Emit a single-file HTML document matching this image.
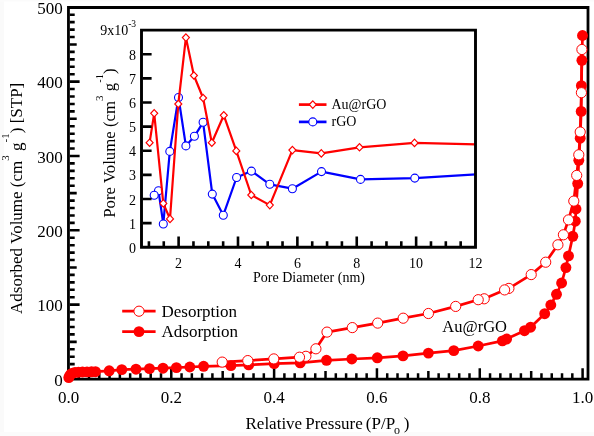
<!DOCTYPE html>
<html><head><meta charset="utf-8"><style>
html,body{margin:0;padding:0;background:#fff;overflow:hidden;}
svg{display:block;will-change:transform;}
text{font-family:"Liberation Serif",serif;fill:#000;}
.l16{font-size:17px;}
.l14{font-size:14px;}
.l10{font-size:10px;}
</style></head><body>
<svg width="594" height="436" viewBox="0 0 594 436">
<rect width="594" height="436" fill="#fff"/>
<rect x="0" y="0" width="4" height="436" fill="#fafafa"/><rect x="0" y="432" width="594" height="4" fill="#fbfbfb"/><rect x="0" y="0" width="594" height="1.5" fill="#fbfbfb"/>
<path d="M68.45 7.5H588V379.2H68.45Z" fill="none" stroke="#000" stroke-width="2.8" stroke-linejoin="miter"/>
<path d="M69.8 371.57h4.9 M69.8 364.13h4.9 M69.8 356.70h4.9 M69.8 349.26h4.9 M69.8 341.83h6.9 M69.8 334.40h4.9 M69.8 326.96h4.9 M69.8 319.53h4.9 M69.8 312.09h4.9 M69.8 304.66h9.8 M69.8 297.23h4.9 M69.8 289.79h4.9 M69.8 282.36h4.9 M69.8 274.92h4.9 M69.8 267.49h6.9 M69.8 260.06h4.9 M69.8 252.62h4.9 M69.8 245.19h4.9 M69.8 237.75h4.9 M69.8 230.32h9.8 M69.8 222.89h4.9 M69.8 215.45h4.9 M69.8 208.02h4.9 M69.8 200.58h4.9 M69.8 193.15h6.9 M69.8 185.72h4.9 M69.8 178.28h4.9 M69.8 170.85h4.9 M69.8 163.41h4.9 M69.8 155.98h9.8 M69.8 148.55h4.9 M69.8 141.11h4.9 M69.8 133.68h4.9 M69.8 126.24h4.9 M69.8 118.81h6.9 M69.8 111.38h4.9 M69.8 103.94h4.9 M69.8 96.51h4.9 M69.8 89.07h4.9 M69.8 81.64h9.8 M69.8 74.21h4.9 M69.8 66.77h4.9 M69.8 59.34h4.9 M69.8 51.90h4.9 M69.8 44.47h6.9 M69.8 37.04h4.9 M69.8 29.60h4.9 M69.8 22.17h4.9 M69.8 14.73h4.9" stroke="#000" stroke-width="2.6" fill="none"/>
<path d="M78.73 378.4v-5.2 M89.02 378.4v-5.2 M99.30 378.4v-5.2 M109.58 378.4v-5.2 M119.87 378.4v-7.5 M130.15 378.4v-5.2 M140.43 378.4v-5.2 M150.71 378.4v-5.2 M161.00 378.4v-5.2 M171.28 378.4v-10.2 M181.56 378.4v-5.2 M191.85 378.4v-5.2 M202.13 378.4v-5.2 M212.41 378.4v-5.2 M222.69 378.4v-7.5 M232.98 378.4v-5.2 M243.26 378.4v-5.2 M253.54 378.4v-5.2 M263.83 378.4v-5.2 M274.11 378.4v-10.2 M284.39 378.4v-5.2 M294.68 378.4v-5.2 M304.96 378.4v-5.2 M315.24 378.4v-5.2 M325.52 378.4v-7.5 M335.81 378.4v-5.2 M346.09 378.4v-5.2 M356.37 378.4v-5.2 M366.66 378.4v-5.2 M376.94 378.4v-10.2 M387.22 378.4v-5.2 M397.51 378.4v-5.2 M407.79 378.4v-5.2 M418.07 378.4v-5.2 M428.36 378.4v-7.5 M438.64 378.4v-5.2 M448.92 378.4v-5.2 M459.20 378.4v-5.2 M469.49 378.4v-5.2 M479.77 378.4v-10.2 M490.05 378.4v-5.2 M500.34 378.4v-5.2 M510.62 378.4v-5.2 M520.90 378.4v-5.2 M531.19 378.4v-7.5 M541.47 378.4v-5.2 M551.75 378.4v-5.2 M562.03 378.4v-5.2 M572.32 378.4v-5.2 M582.60 378.4v-10.2" stroke="#000" stroke-width="2.5" fill="none"/>
<text x="62.8" y="385.5" text-anchor="end" class="l16">0</text>
<text x="62.8" y="311.2" text-anchor="end" class="l16">100</text>
<text x="62.8" y="236.8" text-anchor="end" class="l16">200</text>
<text x="62.8" y="162.5" text-anchor="end" class="l16">300</text>
<text x="62.8" y="88.1" text-anchor="end" class="l16">400</text>
<text x="62.8" y="13.8" text-anchor="end" class="l16">500</text>
<text x="68.5" y="403" text-anchor="middle" class="l16">0.0</text>
<text x="171.3" y="403" text-anchor="middle" class="l16">0.2</text>
<text x="274.1" y="403" text-anchor="middle" class="l16">0.4</text>
<text x="376.9" y="403" text-anchor="middle" class="l16">0.6</text>
<text x="479.8" y="403" text-anchor="middle" class="l16">0.8</text>
<text x="582.6" y="403" text-anchor="middle" class="l16">1.0</text>
<text x="245.5" y="429" class="l16" word-spacing="-1.2">Relative Pressure (P/P<tspan font-size="12" dy="5" dx="-1.2">o</tspan><tspan dy="-5" dx="0.8"> )</tspan></text>
<text transform="translate(21.7,314) rotate(-90)" class="l16">Adsorbed Volume (cm<tspan font-size="11" dy="-13">3</tspan><tspan dy="13"> g</tspan><tspan font-size="11" dy="-13">-1</tspan><tspan dy="13">) [STP]</tspan></text>
<polyline points="68.8,377.6 69.6,375.8 70.8,374.2 72.5,373.2 75.0,372.5 78.5,372.2 82.5,372.0 87.0,371.9 91.5,371.8 95.5,371.7 109.2,370.8 121.8,369.6 136.0,369.2 149.5,368.6 163.0,368.2 176.4,367.6 189.8,367.0 203.6,366.3 230.9,365.6 248.7,364.9 274.2,363.6 300.2,362.9 326.5,360.3 351.8,359.0 377.3,357.8 403.0,355.9 428.4,353.1 453.8,350.6 478.2,346.0 502.4,340.9 506.6,339.0 524.5,330.7 530.6,327.2 544.7,313.7 550.8,305.0 556.5,294.3 561.6,283.0 565.9,267.6 568.5,255.9 572.8,236.3 575.3,221.2 576.0,209.0 577.7,183.6 578.8,160.3 580.2,138.2 581.2,111.4 581.4,85.7 581.9,60.3 582.5,35.5" fill="none" stroke="#ff0000" stroke-width="2.7" stroke-linejoin="round"/>
<polyline points="581.9,49.5 581.4,92.7 580.2,132.0 578.8,154.8 576.7,175.4 573.8,201.1 568.5,219.9 563.4,234.8 557.9,244.8 545.7,262.2 531.2,274.6 508.9,288.4 504.6,289.9 484.2,298.8 478.2,299.7 455.7,306.4 428.4,313.5 403.2,318.2 377.7,323.1 352.3,327.6 327.0,332.1 315.9,348.8 305.9,356.3 299.5,357.2 273.8,358.9 247.8,360.6 222.2,362.1" fill="none" stroke="#ff0000" stroke-width="2.7" stroke-linejoin="round"/>
<circle cx="68.8" cy="377.6" r="5.45" fill="#ff0000"/>
<circle cx="69.6" cy="375.8" r="5.45" fill="#ff0000"/>
<circle cx="70.8" cy="374.2" r="5.45" fill="#ff0000"/>
<circle cx="72.5" cy="373.2" r="5.45" fill="#ff0000"/>
<circle cx="75" cy="372.5" r="5.45" fill="#ff0000"/>
<circle cx="78.5" cy="372.2" r="5.45" fill="#ff0000"/>
<circle cx="82.5" cy="372" r="5.45" fill="#ff0000"/>
<circle cx="87" cy="371.9" r="5.45" fill="#ff0000"/>
<circle cx="91.5" cy="371.8" r="5.45" fill="#ff0000"/>
<circle cx="95.5" cy="371.7" r="5.45" fill="#ff0000"/>
<circle cx="109.2" cy="370.8" r="5.45" fill="#ff0000"/>
<circle cx="121.8" cy="369.6" r="5.45" fill="#ff0000"/>
<circle cx="136" cy="369.2" r="5.45" fill="#ff0000"/>
<circle cx="149.5" cy="368.6" r="5.45" fill="#ff0000"/>
<circle cx="163" cy="368.2" r="5.45" fill="#ff0000"/>
<circle cx="176.4" cy="367.6" r="5.45" fill="#ff0000"/>
<circle cx="189.8" cy="367" r="5.45" fill="#ff0000"/>
<circle cx="203.6" cy="366.3" r="5.45" fill="#ff0000"/>
<circle cx="230.9" cy="365.6" r="5.45" fill="#ff0000"/>
<circle cx="248.7" cy="364.9" r="5.45" fill="#ff0000"/>
<circle cx="274.2" cy="363.6" r="5.45" fill="#ff0000"/>
<circle cx="300.2" cy="362.9" r="5.45" fill="#ff0000"/>
<circle cx="326.5" cy="360.3" r="5.45" fill="#ff0000"/>
<circle cx="351.8" cy="359" r="5.45" fill="#ff0000"/>
<circle cx="377.3" cy="357.8" r="5.45" fill="#ff0000"/>
<circle cx="403" cy="355.9" r="5.45" fill="#ff0000"/>
<circle cx="428.4" cy="353.1" r="5.45" fill="#ff0000"/>
<circle cx="453.8" cy="350.6" r="5.45" fill="#ff0000"/>
<circle cx="478.2" cy="346" r="5.45" fill="#ff0000"/>
<circle cx="502.4" cy="340.9" r="5.45" fill="#ff0000"/>
<circle cx="506.6" cy="339" r="5.45" fill="#ff0000"/>
<circle cx="524.5" cy="330.7" r="5.45" fill="#ff0000"/>
<circle cx="530.6" cy="327.2" r="5.45" fill="#ff0000"/>
<circle cx="544.7" cy="313.7" r="5.45" fill="#ff0000"/>
<circle cx="550.8" cy="305" r="5.45" fill="#ff0000"/>
<circle cx="556.5" cy="294.3" r="5.45" fill="#ff0000"/>
<circle cx="561.6" cy="283" r="5.45" fill="#ff0000"/>
<circle cx="565.9" cy="267.6" r="5.45" fill="#ff0000"/>
<circle cx="568.5" cy="255.9" r="5.45" fill="#ff0000"/>
<circle cx="572.8" cy="236.3" r="5.45" fill="#ff0000"/>
<circle cx="575.3" cy="221.2" r="5.45" fill="#ff0000"/>
<circle cx="576" cy="209" r="5.45" fill="#ff0000"/>
<circle cx="577.7" cy="183.6" r="5.45" fill="#ff0000"/>
<circle cx="578.8" cy="160.3" r="5.45" fill="#ff0000"/>
<circle cx="580.2" cy="138.2" r="5.45" fill="#ff0000"/>
<circle cx="581.2" cy="111.4" r="5.45" fill="#ff0000"/>
<circle cx="581.4" cy="85.7" r="5.45" fill="#ff0000"/>
<circle cx="581.9" cy="60.3" r="5.45" fill="#ff0000"/>
<circle cx="582.5" cy="35.5" r="5.45" fill="#ff0000"/>
<circle cx="581.9" cy="49.5" r="5.1" fill="#fff" stroke="#ff0000" stroke-width="1.0"/>
<circle cx="581.4" cy="92.7" r="5.1" fill="#fff" stroke="#ff0000" stroke-width="1.0"/>
<circle cx="580.2" cy="132" r="5.1" fill="#fff" stroke="#ff0000" stroke-width="1.0"/>
<circle cx="578.8" cy="154.8" r="5.1" fill="#fff" stroke="#ff0000" stroke-width="1.0"/>
<circle cx="576.7" cy="175.4" r="5.1" fill="#fff" stroke="#ff0000" stroke-width="1.0"/>
<circle cx="573.8" cy="201.1" r="5.1" fill="#fff" stroke="#ff0000" stroke-width="1.0"/>
<circle cx="568.5" cy="219.9" r="5.1" fill="#fff" stroke="#ff0000" stroke-width="1.0"/>
<circle cx="563.4" cy="234.8" r="5.1" fill="#fff" stroke="#ff0000" stroke-width="1.0"/>
<circle cx="557.9" cy="244.8" r="5.1" fill="#fff" stroke="#ff0000" stroke-width="1.0"/>
<circle cx="545.7" cy="262.2" r="5.1" fill="#fff" stroke="#ff0000" stroke-width="1.0"/>
<circle cx="531.2" cy="274.6" r="5.1" fill="#fff" stroke="#ff0000" stroke-width="1.0"/>
<circle cx="508.9" cy="288.4" r="5.1" fill="#fff" stroke="#ff0000" stroke-width="1.0"/>
<circle cx="504.6" cy="289.9" r="5.1" fill="#fff" stroke="#ff0000" stroke-width="1.0"/>
<circle cx="484.2" cy="298.8" r="5.1" fill="#fff" stroke="#ff0000" stroke-width="1.0"/>
<circle cx="478.2" cy="299.7" r="5.1" fill="#fff" stroke="#ff0000" stroke-width="1.0"/>
<circle cx="455.7" cy="306.4" r="5.1" fill="#fff" stroke="#ff0000" stroke-width="1.0"/>
<circle cx="428.4" cy="313.5" r="5.1" fill="#fff" stroke="#ff0000" stroke-width="1.0"/>
<circle cx="403.2" cy="318.2" r="5.1" fill="#fff" stroke="#ff0000" stroke-width="1.0"/>
<circle cx="377.7" cy="323.1" r="5.1" fill="#fff" stroke="#ff0000" stroke-width="1.0"/>
<circle cx="352.3" cy="327.6" r="5.1" fill="#fff" stroke="#ff0000" stroke-width="1.0"/>
<circle cx="327" cy="332.1" r="5.1" fill="#fff" stroke="#ff0000" stroke-width="1.0"/>
<circle cx="315.9" cy="348.8" r="5.1" fill="#fff" stroke="#ff0000" stroke-width="1.0"/>
<circle cx="305.9" cy="356.3" r="5.1" fill="#fff" stroke="#ff0000" stroke-width="1.0"/>
<circle cx="299.5" cy="357.2" r="5.1" fill="#fff" stroke="#ff0000" stroke-width="1.0"/>
<circle cx="273.8" cy="358.9" r="5.1" fill="#fff" stroke="#ff0000" stroke-width="1.0"/>
<circle cx="247.8" cy="360.6" r="5.1" fill="#fff" stroke="#ff0000" stroke-width="1.0"/>
<circle cx="222.2" cy="362.1" r="5.1" fill="#fff" stroke="#ff0000" stroke-width="1.0"/>
<path d="M122.2 311.2H155.6M122.2 331.6H155.6" stroke="#ff0000" stroke-width="2.7"/>
<circle cx="139" cy="311.2" r="5.1" fill="#fff" stroke="#ff0000" stroke-width="1.0"/>
<circle cx="139" cy="331.6" r="5.45" fill="#ff0000"/>
<text x="161.5" y="316.5" class="l16">Desorption</text>
<text x="161.5" y="336.7" class="l16">Adsorption</text>
<text x="442.3" y="331.6" class="l16" style="font-size:16.5px">Au@rGO</text>
<rect x="141.5" y="30.1" width="334.0" height="217.1" fill="#fff" stroke="none"/>
<clipPath id="ci"><rect x="141.5" y="30.1" width="334.0" height="217.1"/></clipPath>
<g clip-path="url(#ci)">
<polyline points="154.2,195.3 158.5,190.8 163.3,224.0 169.8,151.4 178.5,97.5 185.9,145.9 194.4,136.3 203.1,122.3 212.3,194.1 223.3,215.2 236.6,177.5 251.4,171.1 269.8,184.3 292.4,188.7 321.5,171.6 360.5,179.4 414.8,178.1 500.0,172.9" fill="none" stroke="#0000ff" stroke-width="2.2" stroke-linejoin="round"/>
<circle cx="500" cy="172.9" r="4.0" fill="#fff" stroke="#0000ff" stroke-width="1.1"/>
<circle cx="414.8" cy="178.1" r="4.0" fill="#fff" stroke="#0000ff" stroke-width="1.1"/>
<circle cx="360.5" cy="179.4" r="4.0" fill="#fff" stroke="#0000ff" stroke-width="1.1"/>
<circle cx="321.5" cy="171.6" r="4.0" fill="#fff" stroke="#0000ff" stroke-width="1.1"/>
<circle cx="292.4" cy="188.7" r="4.0" fill="#fff" stroke="#0000ff" stroke-width="1.1"/>
<circle cx="269.8" cy="184.3" r="4.0" fill="#fff" stroke="#0000ff" stroke-width="1.1"/>
<circle cx="251.4" cy="171.1" r="4.0" fill="#fff" stroke="#0000ff" stroke-width="1.1"/>
<circle cx="236.6" cy="177.5" r="4.0" fill="#fff" stroke="#0000ff" stroke-width="1.1"/>
<circle cx="223.3" cy="215.2" r="4.0" fill="#fff" stroke="#0000ff" stroke-width="1.1"/>
<circle cx="212.3" cy="194.1" r="4.0" fill="#fff" stroke="#0000ff" stroke-width="1.1"/>
<circle cx="203.1" cy="122.3" r="4.0" fill="#fff" stroke="#0000ff" stroke-width="1.1"/>
<circle cx="194.4" cy="136.3" r="4.0" fill="#fff" stroke="#0000ff" stroke-width="1.1"/>
<circle cx="185.9" cy="145.9" r="4.0" fill="#fff" stroke="#0000ff" stroke-width="1.1"/>
<circle cx="178.5" cy="97.5" r="4.0" fill="#fff" stroke="#0000ff" stroke-width="1.1"/>
<circle cx="169.8" cy="151.4" r="4.0" fill="#fff" stroke="#0000ff" stroke-width="1.1"/>
<circle cx="163.3" cy="224" r="4.0" fill="#fff" stroke="#0000ff" stroke-width="1.1"/>
<circle cx="158.5" cy="190.8" r="4.0" fill="#fff" stroke="#0000ff" stroke-width="1.1"/>
<circle cx="154.2" cy="195.3" r="4.0" fill="#fff" stroke="#0000ff" stroke-width="1.1"/>
<polyline points="149.6,142.7 154.2,113.3 163.3,203.4 170.0,218.9 178.3,104.0 185.9,37.6 193.9,75.5 203.1,98.0 211.8,142.7 223.8,115.3 236.3,150.9 251.3,195.0 269.8,205.1 292.4,150.1 321.3,153.4 359.5,147.3 414.5,142.9 500.0,145.0" fill="none" stroke="#ff0000" stroke-width="2.2" stroke-linejoin="round"/>
<path d="M149.6 139.0l3.5 3.7l-3.5 3.7l-3.5 -3.7z" fill="#fff" stroke="#ff0000" stroke-width="1.2"/>
<path d="M154.2 109.6l3.5 3.7l-3.5 3.7l-3.5 -3.7z" fill="#fff" stroke="#ff0000" stroke-width="1.2"/>
<path d="M163.3 199.70000000000002l3.5 3.7l-3.5 3.7l-3.5 -3.7z" fill="#fff" stroke="#ff0000" stroke-width="1.2"/>
<path d="M170 215.20000000000002l3.5 3.7l-3.5 3.7l-3.5 -3.7z" fill="#fff" stroke="#ff0000" stroke-width="1.2"/>
<path d="M178.3 100.3l3.5 3.7l-3.5 3.7l-3.5 -3.7z" fill="#fff" stroke="#ff0000" stroke-width="1.2"/>
<path d="M185.9 33.9l3.5 3.7l-3.5 3.7l-3.5 -3.7z" fill="#fff" stroke="#ff0000" stroke-width="1.2"/>
<path d="M193.9 71.8l3.5 3.7l-3.5 3.7l-3.5 -3.7z" fill="#fff" stroke="#ff0000" stroke-width="1.2"/>
<path d="M203.1 94.3l3.5 3.7l-3.5 3.7l-3.5 -3.7z" fill="#fff" stroke="#ff0000" stroke-width="1.2"/>
<path d="M211.8 139.0l3.5 3.7l-3.5 3.7l-3.5 -3.7z" fill="#fff" stroke="#ff0000" stroke-width="1.2"/>
<path d="M223.8 111.6l3.5 3.7l-3.5 3.7l-3.5 -3.7z" fill="#fff" stroke="#ff0000" stroke-width="1.2"/>
<path d="M236.3 147.20000000000002l3.5 3.7l-3.5 3.7l-3.5 -3.7z" fill="#fff" stroke="#ff0000" stroke-width="1.2"/>
<path d="M251.3 191.3l3.5 3.7l-3.5 3.7l-3.5 -3.7z" fill="#fff" stroke="#ff0000" stroke-width="1.2"/>
<path d="M269.8 201.4l3.5 3.7l-3.5 3.7l-3.5 -3.7z" fill="#fff" stroke="#ff0000" stroke-width="1.2"/>
<path d="M292.4 146.4l3.5 3.7l-3.5 3.7l-3.5 -3.7z" fill="#fff" stroke="#ff0000" stroke-width="1.2"/>
<path d="M321.3 149.70000000000002l3.5 3.7l-3.5 3.7l-3.5 -3.7z" fill="#fff" stroke="#ff0000" stroke-width="1.2"/>
<path d="M359.5 143.60000000000002l3.5 3.7l-3.5 3.7l-3.5 -3.7z" fill="#fff" stroke="#ff0000" stroke-width="1.2"/>
<path d="M414.5 139.20000000000002l3.5 3.7l-3.5 3.7l-3.5 -3.7z" fill="#fff" stroke="#ff0000" stroke-width="1.2"/>
<path d="M500 141.3l3.5 3.7l-3.5 3.7l-3.5 -3.7z" fill="#fff" stroke="#ff0000" stroke-width="1.2"/>
</g>
<path d="M141.5 30.1H475.5V247.2H141.5Z" fill="none" stroke="#000" stroke-width="2.9"/>
<path d="M142.8 223.08h8.8 M142.8 198.96h8.8 M142.8 174.84h8.8 M142.8 150.72h8.8 M142.8 126.60h8.8 M142.8 102.48h8.8 M142.8 78.36h8.8 M142.8 54.24h8.8 M148.92 246.0v-4.7 M163.77 246.0v-4.7 M178.61 246.0v-9.5 M193.46 246.0v-4.7 M208.30 246.0v-4.7 M223.15 246.0v-4.7 M237.99 246.0v-9.5 M252.84 246.0v-4.7 M267.68 246.0v-4.7 M282.53 246.0v-4.7 M297.37 246.0v-9.5 M312.22 246.0v-4.7 M327.06 246.0v-4.7 M341.91 246.0v-4.7 M356.75 246.0v-9.5 M371.60 246.0v-4.7 M386.44 246.0v-4.7 M401.29 246.0v-4.7 M416.13 246.0v-9.5 M430.98 246.0v-4.7 M445.82 246.0v-4.7 M460.67 246.0v-4.7" stroke="#000" stroke-width="2.6" fill="none"/>
<text x="136" y="252.8" text-anchor="end" class="l14">0</text>
<text x="136" y="228.7" text-anchor="end" class="l14">1</text>
<text x="136" y="204.6" text-anchor="end" class="l14">2</text>
<text x="136" y="180.4" text-anchor="end" class="l14">3</text>
<text x="136" y="156.3" text-anchor="end" class="l14">4</text>
<text x="136" y="132.2" text-anchor="end" class="l14">5</text>
<text x="136" y="108.1" text-anchor="end" class="l14">6</text>
<text x="136" y="84.0" text-anchor="end" class="l14">7</text>
<text x="136" y="59.8" text-anchor="end" class="l14">8</text>
<text x="128.2" y="34.8" text-anchor="end" class="l14">9x10</text><text x="128.2" y="26.6" class="l10" style="font-size:9.5px">-3</text>
<text x="178.6" y="268" text-anchor="middle" class="l14">2</text>
<text x="238.0" y="268" text-anchor="middle" class="l14">4</text>
<text x="297.4" y="268" text-anchor="middle" class="l14">6</text>
<text x="356.8" y="268" text-anchor="middle" class="l14">8</text>
<text x="416.1" y="268" text-anchor="middle" class="l14">10</text>
<text x="475.5" y="268" text-anchor="middle" class="l14">12</text>
<text x="253" y="281.8" class="l14">Pore Diameter (nm)</text>
<text transform="translate(114.5,217.8) rotate(-90)" style="font-size:16.8px">Pore Volume (cm<tspan font-size="11" dy="-12">3</tspan><tspan dy="12"> g</tspan><tspan font-size="10.5" dy="-12">-1</tspan><tspan dy="12">)</tspan></text>
<path d="M298.9 104.6H326.5" stroke="#ff0000" stroke-width="2.7"/>
<path d="M312.8 100.9l3.5 3.7l-3.5 3.7l-3.5 -3.7z" fill="#fff" stroke="#ff0000" stroke-width="1.2"/>
<path d="M298.9 121.9H326.5" stroke="#0000ff" stroke-width="2.7"/>
<circle cx="312.8" cy="121.9" r="4.0" fill="#fff" stroke="#0000ff" stroke-width="1.1"/>
<text x="331.5" y="109" class="l14">Au@rGO</text>
<text x="331.5" y="126.1" class="l14">rGO</text>
</svg>
</body></html>
